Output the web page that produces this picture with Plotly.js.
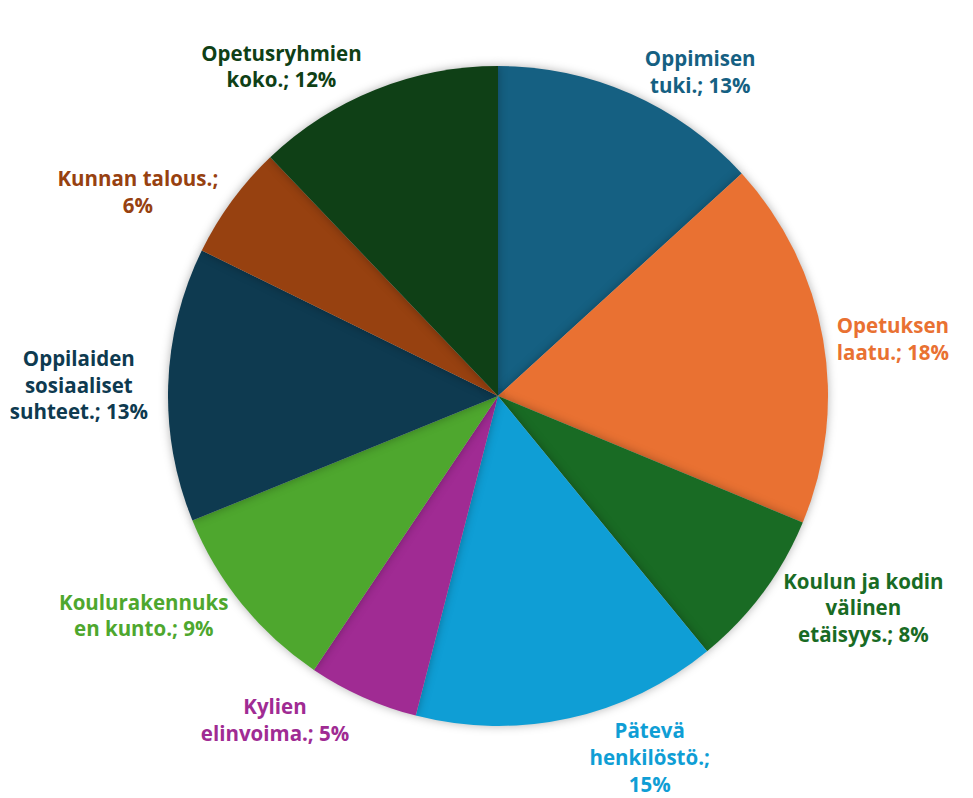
<!DOCTYPE html>
<html><head><meta charset="utf-8">
<script src="https://cdn.plot.ly/plotly-3.0.1.min.js"></script>
<style>
html,body{margin:0;padding:0;background:#fff;}
#chart{width:973px;height:798px;}
.pielayer .slice path.surface{filter:drop-shadow(0px 0px 5px rgba(0,0,0,0.3));}
</style>
</head><body>
<div id="chart"></div>
<script>
const categories = ["Oppimisen tuki.", "Opetuksen laatu.", "Koulun ja kodin välinen etäisyys.", "Pätevä henkilöstö.", "Kylien elinvoima.", "Koulurakennuksen kunto.", "Oppilaiden sosiaaliset suhteet.", "Kunnan talous.", "Opetusryhmien koko."];
const values = [13.2, 18.0, 7.8, 14.9, 5.4, 9.4, 13.4, 5.6, 12.1];
const labelTexts = ["Oppimisen<br>tuki.; 13%", "Opetuksen<br>laatu.; 18%", "Koulun ja kodin<br>välinen<br>etäisyys.; 8%", "Pätevä<br>henkilöstö.;<br>15%", "Kylien<br>elinvoima.; 5%", "Koulurakennuks<br>en kunto.; 9%", "Oppilaiden<br>sosiaaliset<br>suhteet.; 13%", "Kunnan talous.;<br>6%", "Opetusryhmien<br>koko.; 12%"];
const colors = ["#156082", "#E97132", "#196B24", "#0F9ED5", "#A02B93", "#4EA72E", "#0E3A50", "#974110", "#0F4016"];

const W = 973, H = 798, cx = 498, cy = 396, r = 330;
const font = {family: "Open Sans, sans-serif", size: 20.5, color: colors, weight: "bold"};
const trace = {
  type: "pie",
  labels: categories,
  values: values,
  text: labelTexts,
  textinfo: "text",
  textposition: "outside",
  sort: false,
  direction: "clockwise",
  rotation: 0,
  marker: {colors: colors, line: {width: 0}},
  textfont: font,
  outsidetextfont: font,
  automargin: false,
  showlegend: false,
  hoverinfo: "label+percent",
  domain: {x: [(cx - r) / W, (cx + r) / W], y: [1 - (cy + r) / H, 1 - (cy - r) / H]}
};
Plotly.newPlot("chart", [trace], {
  width: W, height: H,
  margin: {l: 0, r: 0, t: 0, b: 0},
  paper_bgcolor: "#fff",
  showlegend: false
}, {displayModeBar: false, staticPlot: true});
</script>
</body></html>
